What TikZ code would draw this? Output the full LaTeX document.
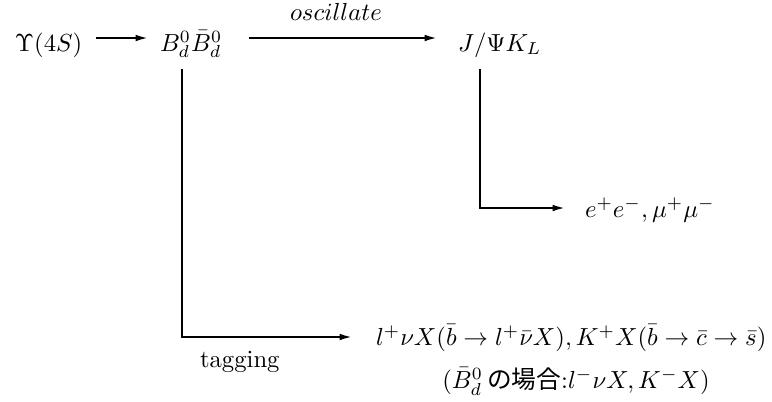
\documentclass[tikz,border=0pt]{standalone}
\usepackage{fontspec}
\newfontfamily\cjk{Noto Sans CJK JP}
\usetikzlibrary{arrows.meta,calc}
\begin{document}
\begin{tikzpicture}[x=0.405pt,y=-0.405pt,
  lbl/.style={anchor=base west, inner sep=0pt, outer sep=0pt},
  conn/.style={line width=0.78pt, -{Latex[length=5pt,width=2.7pt]}}]
\useasboundingbox (0,0) rectangle (772,401);
\node[lbl] (ups) at (15,51) {$\Upsilon(4S)$};
\node[lbl] (bb) at (160,51) {$B_d^0\bar B_d^0$};
\node[lbl] (jpsi) at (458,51) {$J/\Psi K_L$};
\node[lbl] (osc) at (290,20) {$oscillate$};
\node[lbl] (ee) at (585,217) {$e^+e^-,\mu^+\mu^-$};
\node[lbl] (tag1) at (376,345) {$l^+\nu X(\bar b\to l^+\bar\nu X),K^+X(\bar b\to\bar c\to\bar s)$};
\node[anchor=base, inner sep=0pt] (tag2) at (576,388) {$(\bar B_d^0$\,{\cjk の場合}:$l^-\nu X,K^-X)$};
\node[lbl] (tg) at (200,367) {tagging};
\draw[conn] ($(ups.base east)+(14,-13)$) -- ($(bb.base west)+(-12,-13)$);
\draw[conn] ($(bb.base east)+(27,-13)$) -- ($(jpsi.base west)+(-21,-13)$);
\draw[conn] ($(bb.base west)+(22,18)$) |- ($(tag1.base west)+(-24,-8)$);
\draw[conn] ($(jpsi.base west)+(22,18)$) |- ($(ee.base west)+(-20,-9)$);
\end{tikzpicture}
\end{document}
